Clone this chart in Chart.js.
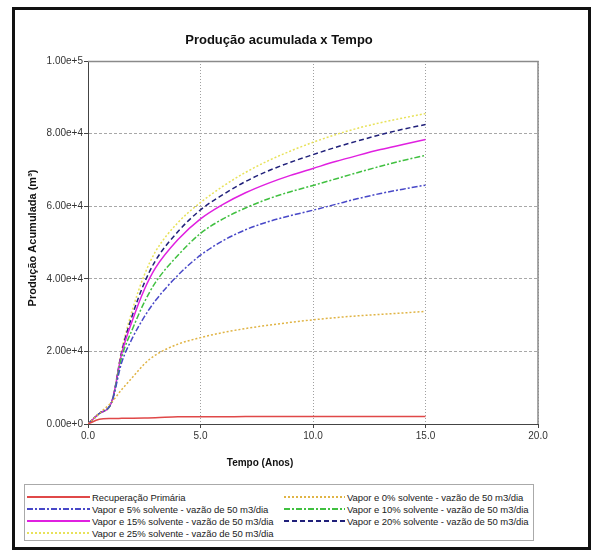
<!DOCTYPE html>
<html>
<head>
<meta charset="utf-8">
<script src="https://cdn.jsdelivr.net/npm/chart.js@4.4.0/dist/chart.umd.min.js"></script>
<style>
    body { margin: 0; background: #fff; }
    #wrap { position: relative; width: 594px; height: 557px; font-family: 'Liberation Sans', Arial, sans-serif; }
    #frame { position: absolute; left: 12px; top: 7px; width: 573px; height: 537px; border: 3px solid #111; }
    #chart { position: absolute; left: 0; top: 0; }
    #legend { position: absolute; left: 24px; top: 484px; width: 510px; height: 57px; border: 1px solid #aaa;
              display: grid; grid-template-columns: 257px 253px; grid-auto-rows: 12px; padding-top: 6px; box-sizing: border-box; }
    .item { display: flex; align-items: center; font-size: 9.5px; letter-spacing: -0.05px; color: #222; white-space: nowrap; overflow: visible; }
    .item svg { margin-left: 2px; margin-right: 2px; flex-shrink: 0; }
</style>
</head>
<body>
<div id="wrap">
    <div id="frame"></div>
    <canvas id="chart" width="594" height="480"></canvas>
    <div id="legend"></div>
</div>
<script>
// tempo em anos
var years = [0, 0.5, 1.05, 1.5, 2, 2.5, 3, 4, 5, 6, 7, 8, 9, 10, 11, 12, 13, 14, 15]

var primaria = [0, 1300, 1500, 1550, 1600, 1650, 1700, 2000, 2000, 2000, 2050, 2050, 2050, 2100, 2100, 2100, 2100, 2100, 2100]
var solv0  = [0, 2900, 6000, 9500, 13000, 16500, 19000, 22000, 23800, 25200, 26300, 27200, 28000, 28700, 29300, 29800, 30200, 30600, 31000]
var solv5  = [0, 2900, 6000, 17000, 24000, 29500, 34000, 41000, 46500, 50500, 53500, 55700, 57400, 58900, 60500, 62100, 63500, 64700, 65800]
var solv10 = [0, 2900, 6000, 18500, 26500, 33500, 39000, 46500, 52500, 56500, 59500, 62000, 64000, 65700, 67500, 69300, 71000, 72600, 74000]
var solv15 = [0, 2900, 6000, 19500, 29000, 37000, 43000, 50800, 56500, 60500, 63700, 66300, 68500, 70400, 72300, 74000, 75600, 77000, 78400]
var solv20 = [0, 2900, 6000, 20000, 30500, 38800, 45000, 53000, 59000, 63200, 66800, 69700, 72100, 74200, 76200, 78000, 79700, 81200, 82500]
var solv25 = [0, 2900, 6000, 20500, 32000, 41000, 47500, 55500, 61000, 65500, 69300, 72500, 75200, 77600, 79700, 81500, 83000, 84300, 85500]

var seriesLabels = [
    "Recuperação Primária",
    "Vapor e 0% solvente - vazão de 50 m3/dia",
    "Vapor e 5% solvente - vazão de 50 m3/dia",
    "Vapor e 10% solvente - vazão de 50 m3/dia",
    "Vapor e 15% solvente - vazão de 50 m3/dia",
    "Vapor e 20% solvente - vazão de 50 m3/dia",
    "Vapor e 25% solvente - vazão de 50 m3/dia"
]
var seriesValues = [primaria, solv0, solv5, solv10, solv15, solv20, solv25]
var seriesColors = ["#e04848", "#e0b445", "#4848c8", "#40c040", "#e020e0", "#20207a", "#e8e25a"]
var seriesDash = [[], [2, 2], [6, 2, 2, 2], [6, 2, 2, 2], [], [5, 3], [2, 2]]

var xTicks = [0, 5, 10, 15, 20]
var yTicks = [0, 20000, 40000, 60000, 80000, 100000]

var FONT = "'Liberation Sans', Arial, sans-serif"

function toPoints(values) {
    return values.map(function(v, i) { return {x: years[i], y: v} })
}

var datasets = seriesLabels.map(function(label, i) {
    return {
        label: label,
        data: toPoints(seriesValues[i]),
        borderColor: seriesColors[i],
        borderDash: seriesDash[i],
        borderWidth: 1.5,
        pointRadius: 0,
        fill: false,
        cubicInterpolationMode: 'monotone'
    }
})

// titulos e moldura do grafico
var decorPlugin = {
    id: 'decor',
    afterDraw: function(chart) {
        var ctx = chart.ctx
        var a = chart.chartArea
        ctx.save()
        ctx.strokeStyle = '#8a8a8a'
        ctx.lineWidth = 1.5
        ctx.beginPath()
        ctx.moveTo(a.left, a.top + 0.5)
        ctx.lineTo(a.right, a.top + 0.5)
        ctx.lineTo(a.right, a.bottom)
        ctx.stroke()
        ctx.fillStyle = '#111'
        ctx.textAlign = 'center'
        ctx.textBaseline = 'middle'
        ctx.font = "bold 13px " + FONT
        ctx.fillText("Produção acumulada x Tempo", 279, 40)
        ctx.font = "bold 10px " + FONT
        ctx.fillText("Tempo (Anos)", 260, 463)
        ctx.font = "bold 11px " + FONT
        ctx.translate(33, 238)
        ctx.rotate(-Math.PI / 2)
        ctx.fillText("Produção Acumulada (m³)", 0, 0)
        ctx.restore()
    }
}

var prodChartConfig = {
    type: 'line',
    data: { datasets: datasets },
    options: {
        responsive: false,
        animation: false,
        layout: { padding: { top: 61, right: 56, left: 0, bottom: 0 } },
        plugins: { legend: { display: false }, title: { display: false }, tooltip: { enabled: false } },
        scales: {
            x: {
                type: 'linear',
                min: 0,
                max: 20,
                afterFit: function(scale) { scale.height = 56 },
                afterBuildTicks: function(scale) { scale.ticks = xTicks.map(function(v) { return {value: v} }) },
                ticks: {
                    color: '#333',
                    font: { family: FONT, size: 10 },
                    padding: 2,
                    maxRotation: 0,
                    callback: function(v) { return Number(v).toFixed(1) }
                },
                grid: { color: '#a0a0a0', lineWidth: 1, tickLength: 4, tickColor: '#444' },
                border: { display: true, color: '#444', width: 1, dash: [1, 2] }
            },
            y: {
                type: 'linear',
                min: 0,
                max: 100000,
                afterFit: function(scale) { scale.width = 88 },
                afterBuildTicks: function(scale) { scale.ticks = yTicks.map(function(v) { return {value: v} }) },
                ticks: {
                    color: '#333',
                    font: { family: FONT, size: 10 },
                    padding: 1,
                    callback: function(v) { return Number(v).toExponential(2) }
                },
                grid: { color: '#a8a8a8', lineWidth: 1, tickLength: 4, tickColor: '#444' },
                border: { display: true, color: '#444', width: 1, dash: [3, 2] }
            }
        }
    },
    plugins: [decorPlugin]
}

function buildLegend() {
    var box = document.getElementById('legend')
    seriesLabels.forEach(function(label, i) {
        var item = document.createElement('div')
        item.className = 'item'
        var dash = seriesDash[i].length ? seriesDash[i].join(' ') : 'none'
        var w = i % 2 === 0 ? 63 : 61
        item.innerHTML = '<svg width="' + w + '" height="6"><line x1="0" y1="3" x2="' + w + '" y2="3" stroke="' + seriesColors[i] +
            '" stroke-width="2" stroke-dasharray="' + dash + '"/></svg><span>' + label + '</span>'
        box.appendChild(item)
    })
}

var ctx = document.getElementById('chart').getContext('2d')
var prodChart = new Chart(ctx, prodChartConfig)
buildLegend()
</script>
</body>
</html>
